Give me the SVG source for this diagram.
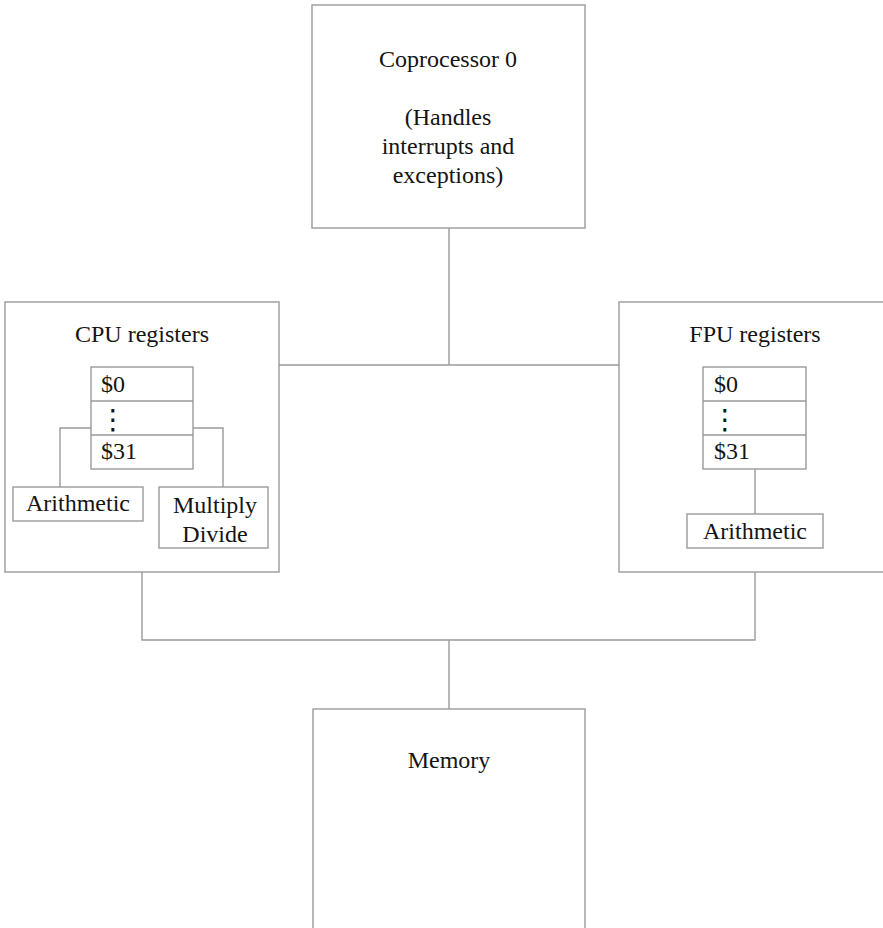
<svg xmlns="http://www.w3.org/2000/svg" width="883" height="928" viewBox="0 0 883 928">
<style>
.box{fill:#fff;stroke:#9a9a9a;stroke-width:1.4}
.ln{fill:none;stroke:#9a9a9a;stroke-width:1.4}
.t{font-family:"Liberation Serif","Times New Roman",serif;font-size:24px;fill:#141414;text-anchor:middle}
.tl{font-family:"Liberation Serif","Times New Roman",serif;font-size:24px;fill:#141414}
.dots{font-family:"DejaVu Serif","DejaVu Sans",serif;font-size:28px;fill:#141414;text-anchor:middle}
</style>
<rect width="883" height="928" fill="#fff"/>
<g id="coprocessor0">
<rect class="box" x="312" y="5" width="273" height="223"/>
<text class="t" x="448" y="67">Coprocessor 0</text>
<text class="t" x="448" y="125">(Handles</text>
<text class="t" x="448" y="154">interrupts and</text>
<text class="t" x="448" y="183">exceptions)</text>
</g>
<g id="cpu">
<rect class="box" x="5" y="302" width="274" height="270"/>
<text class="t" x="142" y="342">CPU registers</text>
</g>
<g id="fpu">
<rect class="box" x="619" y="302" width="280" height="270"/>
<text class="t" x="755" y="342">FPU registers</text>
</g>
<g id="memory">
<rect class="box" x="313" y="709" width="272" height="230"/>
<text class="t" x="449" y="768">Memory</text>
</g>
<g id="connectors">
<path class="ln" d="M449 228V365M279 365H619"/>
<path class="ln" d="M142 572V640H755V572M449 640V709"/>
<path class="ln" d="M91 428H60V487M193 428H223V487"/>
<path class="ln" d="M755 469V514"/>
</g>
<g id="cpu-regs">
<rect class="box" x="91" y="367" width="102" height="102"/>
<path class="ln" d="M91 401H193M91 435H193"/>
<text class="tl" x="101" y="392">$0</text>
<text class="dots" x="113" y="429">⋮</text>
<text class="tl" x="101" y="459">$31</text>
</g>
<g id="cpu-arith">
<rect class="box" x="13" y="487" width="130" height="34"/>
<text class="t" x="78" y="511">Arithmetic</text>
</g>
<g id="cpu-muldiv">
<rect class="box" x="159" y="487" width="109" height="61"/>
<text class="t" x="215" y="513">Multiply</text>
<text class="t" x="215" y="542">Divide</text>
</g>
<g id="fpu-regs">
<rect class="box" x="703" y="367" width="103" height="102"/>
<path class="ln" d="M703 401H806M703 435H806"/>
<text class="tl" x="714" y="392">$0</text>
<text class="dots" x="725" y="429">⋮</text>
<text class="tl" x="714" y="459">$31</text>
</g>
<g id="fpu-arith">
<rect class="box" x="687" y="514" width="136" height="34"/>
<text class="t" x="755" y="539">Arithmetic</text>
</g>
</svg>
